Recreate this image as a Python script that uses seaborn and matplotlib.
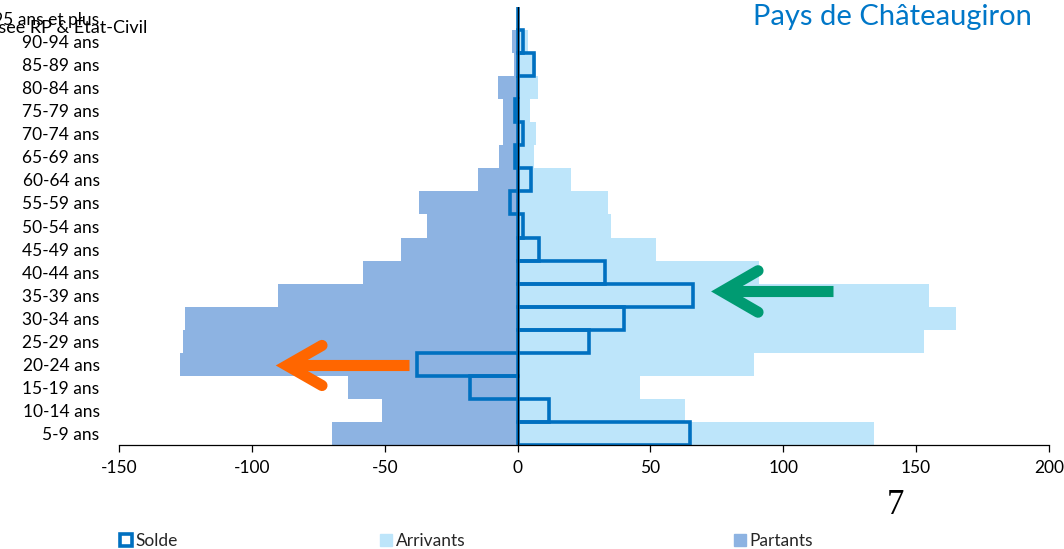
import matplotlib
matplotlib.use("Agg")
import matplotlib.pyplot as plt
from matplotlib.lines import Line2D
import seaborn as sns
import pandas as pd

# age groups, from the youngest (bottom) to the oldest (top)
ages = ["5-9 ans", "10-14 ans", "15-19 ans", "20-24 ans", "25-29 ans", "30-34 ans",
        "35-39 ans", "40-44 ans", "45-49 ans", "50-54 ans", "55-59 ans", "60-64 ans",
        "65-69 ans", "70-74 ans", "75-79 ans", "80-84 ans", "85-89 ans", "90-94 ans",
        "95 ans et plus"]
arrivants = [134, 63, 46, 89, 153, 165, 155, 91, 52, 35, 34, 20, 6, 7, 4.5, 7.5, 7, 4, 0]
partants = [-70, -51, -64, -127, -126, -125, -90, -58, -44, -34, -37, -15, -7, -5.5, -5.5, -7.5, -1.5, -2, 0]
solde = [65, 12, -18, -38, 27, 40, 66, 33, 8, 2, -3, 5, -1, 2, -1, 0, 6, 2, 0]

x_ticks = [-150, -100, -50, 0, 50, 100, 150, 200]

C_ARR = "#BDE5FA"
C_PAR = "#8DB3E2"
C_SOL = "#0070C0"

df = pd.DataFrame({"age": ages, "arrivants": arrivants,
                   "partants": partants, "solde": solde})
order = ages[::-1]  # seaborn puts the first category at the top

sns.set_theme(style="white")
plt.rcParams["font.family"] = ["Lato", "DejaVu Sans"]

fig = plt.figure(figsize=(10.64, 5.49), dpi=100)
ax = fig.add_axes([119 / 1064, 104 / 549, 930 / 1064, 438 / 549])

sns.barplot(data=df, x="partants", y="age", order=order, orient="h", width=1,
            color=C_PAR, saturation=1, errorbar=None, linewidth=0, ax=ax)
sns.barplot(data=df, x="arrivants", y="age", order=order, orient="h", width=1,
            color=C_ARR, saturation=1, errorbar=None, linewidth=0, ax=ax)
sns.barplot(data=df, x="solde", y="age", order=order, orient="h", width=1,
            color=C_SOL, saturation=1, errorbar=None, fill=False, linewidth=2.6, ax=ax)

ax.axvline(0, color="black", lw=0.9, zorder=5)

ax.set_xlim(-150, 200)
ax.set_ylim(len(ages) - 0.5, -0.5)
ax.set_xticks(x_ticks)
ax.set_xticklabels([str(t) for t in x_ticks])
ax.set_xlabel("")
ax.set_ylabel("")
for s in ["left", "top", "right"]:
    ax.spines[s].set_visible(False)
ax.spines["bottom"].set_color("black")
ax.spines["bottom"].set_linewidth(0.9)
ax.tick_params(axis="x", bottom=True, length=5, width=0.9, color="black",
               pad=6, labelsize=12.5, labelcolor="black")
ax.tick_params(axis="y", left=False, length=0, pad=14, labelsize=12.5,
               labelcolor="black")

# arrows (data coordinates)
def draw_arrow(tail_x, tip_x, y, dy, bx, color):
    ax.plot([tail_x, tip_x], [y, y], color=color, lw=8,
            solid_capstyle="butt", zorder=6)
    ax.plot([bx, tip_x, bx], [y - dy, y, y + dy], color=color, lw=8,
            solid_capstyle="round", solid_joinstyle="miter", zorder=6)

draw_arrow(118.7, 77.0, 11.84, 0.9, 90.5, "#009B72")
draw_arrow(-40.9, -86.8, 15.05, 0.87, -73.6, "#FF6600")

fig.text(1032 / 1064, 1 - 17 / 549, "Pays de Châteaugiron", ha="right",
         va="center", fontsize=21, color="#0077C8")
fig.text(147 / 1064, 1 - 28 / 549, "Source : Insee RP & État-Civil", ha="right",
         va="center", fontsize=13, color="black")
fig.text(895 / 1064, 1 - 506 / 549, "7", ha="center", va="center",
         fontsize=25, family="Liberation Serif", color="black")

# legend, three separate entries
entries = [
    ("Solde", Line2D([], [], ls="none", marker="s", ms=9, mfc="white",
                     mec=C_SOL, mew=2.6), 119),
    ("Arrivants", Line2D([], [], ls="none", marker="s", ms=9, mfc=C_ARR,
                         mec=C_ARR), 379),
    ("Partants", Line2D([], [], ls="none", marker="s", ms=9, mfc=C_PAR,
                        mec=C_PAR), 733),
]
for label, h, px in entries:
    fig.legend(handles=[h], labels=[label], loc="center left",
               bbox_to_anchor=(px / 1064, 1 - 541 / 549), frameon=False,
               handlelength=0.8, handletextpad=0.15, borderpad=0,
               borderaxespad=0, fontsize=12.5)

fig.savefig("out.png", dpi=100)
